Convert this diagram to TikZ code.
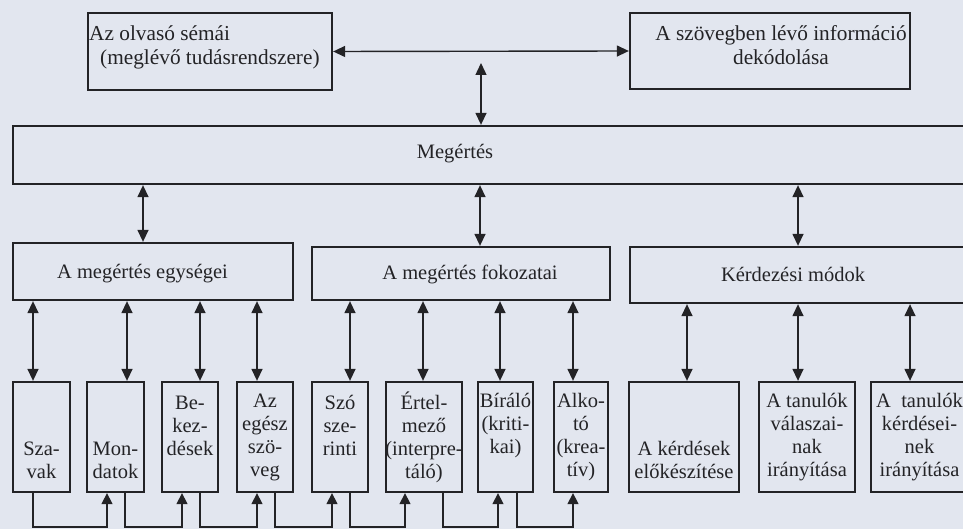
\documentclass[tikz,border=0pt]{standalone}
\usepackage{fontspec}
\setmainfont{Liberation Serif}
\usetikzlibrary{arrows.meta}
\definecolor{paper}{HTML}{E2E6EF}
\definecolor{ink}{HTML}{232326}
\begin{document}
\begin{tikzpicture}[x=1pt,y=-1pt,
  box/.style={draw=ink,line width=2.3pt,inner sep=0pt},
  cell/.style={box,minimum height=110pt},
  lbl/.style={inner sep=0pt,align=center,text=ink,font=\fontsize{20.5}{23}\selectfont},
  toplbl/.style={lbl,font=\fontsize{21.3}{24}\selectfont},
  % text of a cell: centred, or moved up/down by whole rows
  mid/.style={label={[lbl]center:{#1}}},
  high/.style={label={[lbl,yshift=11.5pt]center:{#1}}},
  low/.style={label={[lbl,yshift=-23pt]center:{#1}}},
  link/.style={draw=ink,line width=1.4pt},
  both/.style={link,{Triangle[width=11pt,length=12pt]}-{Triangle[width=11pt,length=12pt]}},
  toward/.style={link,-{Triangle[width=11pt,length=11pt]}}]
\clip (0,0) rectangle (963,529);
\fill[paper] (0,0) rectangle (963,529);

% top level: reader's schemata and decoding
\node[box,minimum width=244pt,minimum height=77pt] (olvaso) at (210,51.5) {};
\node[toplbl,anchor=west] (olvasoA) at (89,33) {Az olvasó sémái};
\node[toplbl,anchor=west] (olvasoB) at (100,59) {(meglévő tudásrendszere)};
\node[box,minimum width=280pt,minimum height=76pt] (dekod) at (770,51) {};
\node[toplbl] (dekodT) at (781,45) {A szövegben lévő információ\\dekódolása};

% comprehension
\node[box,minimum width=962pt,minimum height=58pt] (megertes) at (494,155) {};
\node[lbl] (megertesT) at (455,154) {Megértés};

% second level
\node[box,minimum width=280pt,minimum height=57pt] (egysegei) at (153,271.5) {};
\node[lbl] (egysegeiT) at (142.5,274) {A megértés egységei};
\node[box,minimum width=298pt,minimum height=53pt] (fokozatai) at (461,273.5) {};
\node[lbl] (fokozataiT) at (470,274) {A megértés fokozatai};
\node[box,minimum width=345pt,minimum height=56pt] (kerdezesi) at (802.5,275) {};
\node[lbl] (kerdezesiT) at (793,274) {Kérdezési módok};

% third level
\node[cell,minimum width=57pt,low={Sza-\\vak}] (szavak) at (41.5,437) {};
\node[cell,minimum width=57pt,low={Mon-\\datok}] (mondatok) at (115.5,437) {};
\node[cell,minimum width=56pt,high={Be-\\kez-\\dések}] (bekezdes) at (190,437) {};
\node[cell,minimum width=56pt,mid={Az\\egész\\szö-\\veg}] (egesz) at (265,437) {};
\node[cell,minimum width=56pt,high={Szó\\sze-\\rinti}] (szoszer) at (340,437) {};
\node[cell,minimum width=76pt,mid={Értel-\\mező\\(interpre-\\táló)}] (ertelmezo) at (424,437) {};
\node[cell,minimum width=55pt,high={Bíráló\\(kriti-\\kai)}] (biralo) at (505.5,437) {};
\node[cell,minimum width=54pt,mid={Alko-\\tó\\(krea-\\tív)}] (alkoto) at (581,437) {};
\node[cell,minimum width=110pt,low={A kérdések\\előkészítése}] (elokesz) at (684,437) {};
\node[cell,minimum width=96pt,mid={A tanulók\\válaszai-\\nak\\irányítása}] (valasz) at (807,437) {};
\node[cell,minimum width=97pt,mid={A\ \ tanulók\\kérdései-\\nek\\irányítása}] (kerdesei) at (919.5,437) {};

% top connectors
\coordinate (hub) at (481,63);
\draw[both] (olvaso.east) -- (dekod.west);
\draw[both] (hub) -- (megertes.north -| hub);

% comprehension to second level
\coordinate (m1) at ([xshift=-10pt]egysegei.north);
\coordinate (m2) at ([xshift=19pt]fokozatai.north);
\coordinate (m3) at ([xshift=-4.5pt]kerdezesi.north);
\foreach \c in {m1,m2,m3} \draw[both] (megertes.south -| \c) -- (\c);

% second level to third level
\coordinate (t1) at ([xshift=-8.5pt]szavak.north);
\coordinate (t2) at ([xshift=11.5pt]mondatok.north);
\coordinate (t3) at ([xshift=10pt]bekezdes.north);
\coordinate (t4) at ([xshift=-8pt]egesz.north);
\coordinate (t5) at ([xshift=10pt]szoszer.north);
\coordinate (t6) at ([xshift=-1pt]ertelmezo.north);
\coordinate (t7) at ([xshift=-5.5pt]biralo.north);
\coordinate (t8) at ([xshift=-8pt]alkoto.north);
\coordinate (t9) at ([xshift=3pt]elokesz.north);
\coordinate (t10) at ([xshift=-9pt]valasz.north);
\coordinate (t11) at ([xshift=-9.5pt]kerdesei.north);
\foreach \c in {t1,t2,t3,t4} \draw[both] (egysegei.south -| \c) -- (\c);
\foreach \c in {t5,t6,t7,t8} \draw[both] (fokozatai.south -| \c) -- (\c);
\foreach \c in {t9,t10,t11} \draw[both] (kerdezesi.south -| \c) -- (\c);

% chain along the bottom
\coordinate (base) at (0,527);
\coordinate (d1) at ([xshift=-8.5pt]szavak.south);
\coordinate (d2) at ([xshift=9.5pt]mondatok.south);
\coordinate (d3) at ([xshift=10pt]bekezdes.south);
\coordinate (d4) at ([xshift=10pt]egesz.south);
\coordinate (d5) at ([xshift=10pt]szoszer.south);
\coordinate (d6) at ([xshift=19pt]ertelmezo.south);
\coordinate (d7) at ([xshift=11.5pt]biralo.south);
\coordinate (u2) at ([xshift=-8.5pt]mondatok.south);
\coordinate (u3) at ([xshift=-8pt]bekezdes.south);
\coordinate (u4) at ([xshift=-8pt]egesz.south);
\coordinate (u5) at ([xshift=-8pt]szoszer.south);
\coordinate (u6) at ([xshift=-19pt]ertelmezo.south);
\coordinate (u7) at ([xshift=-7.5pt]biralo.south);
\coordinate (u8) at ([xshift=-8pt]alkoto.south);
\foreach \a/\b in {d1/u2,d2/u3,d3/u4,d4/u5,d5/u6,d6/u7,d7/u8}
  \draw[toward] (\a) -- (\a |- base) -| (\b);
\end{tikzpicture}
\end{document}
